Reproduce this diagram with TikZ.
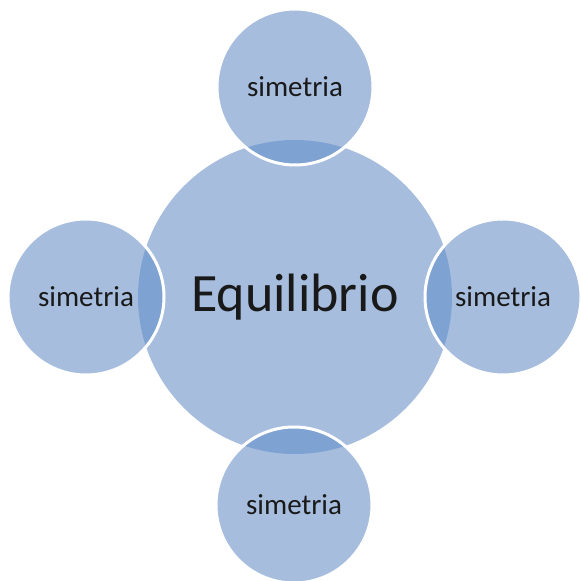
\documentclass[tikz,border=0pt]{standalone}
\usepackage{fontspec}
\setmainfont{Carlito}
\usepackage{xcolor}
\definecolor{ballfill}{RGB}{166,189,222}
\definecolor{ballshade}{RGB}{126,162,210}

\begin{document}
\begin{tikzpicture}[x=1pt, y=1pt,
    hub/.style={circle, fill=ballfill, minimum size=314pt, inner sep=0pt,
        text=black!90, font=\fontsize{54}{60}\selectfont},
    sat/.style={circle, fill=ballfill, draw=white, line width=3pt,
        minimum size=156pt, inner sep=0pt, text=black!90,
        font=\fontsize{29}{34}\selectfont,
        path picture={\fill[ballshade] (eq.center) circle (157pt);}}]
    \clip (0,0) rectangle (581,581);
    \node[hub] (eq) at (295,284) {Equilibrio};

    \node[sat] (top) at (295,494) {simetria};
    \node[sat] (left) at (86,284) {simetria};
    \node[sat] (right) at (503,284) {simetria};
    \node[sat] (bottom) at (294,76) {simetria};
\end{tikzpicture}
\end{document}
